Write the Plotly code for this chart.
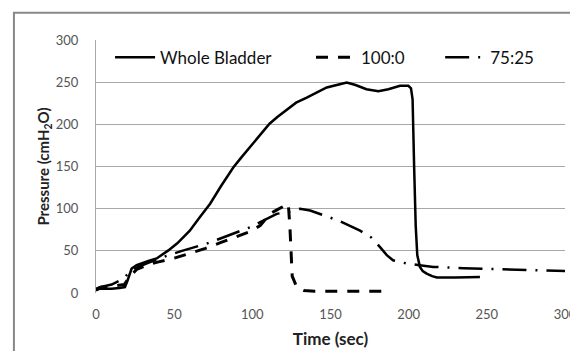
import plotly.graph_objects as go

# Data
wb_t = [0, 2, 5, 10, 15, 18.5, 20, 22.8, 26, 30, 34, 38.8, 42, 46.3, 52, 56, 60, 66, 73, 80, 87.8, 93, 98.5, 105, 111, 116, 122,
        128, 134.8, 141, 147.6, 154, 160.4, 166, 173, 180.6, 187, 194.5, 199.8, 201.5, 202.5, 203.5, 204.5, 205.5, 207.2, 209, 211.5, 215, 218, 230, 245.6]
wb_p = [3, 5, 5, 5, 6, 7, 14, 29, 33, 36, 38.5, 41, 45, 50.6, 59, 66, 74, 89, 106, 127, 149, 161, 173, 188, 201, 209, 217,
        226, 232, 238, 244, 247, 250, 247, 242, 239.5, 242, 246, 246, 243, 230, 150, 80, 45, 31, 26, 23, 20, 18.5, 18.5, 19]

p100_t = [0, 3, 10, 18, 22, 26, 32.4, 40, 49.5, 60, 70, 80, 90, 98.5, 105, 111.3, 116, 120, 123, 124, 124.6, 125.5, 128.4, 133, 140, 160, 185]
p100_p = [4, 7, 8, 10, 20, 28, 33, 37, 41, 47, 53, 60, 67, 73, 80, 94, 99, 103, 106, 80, 50, 20, 7, 3, 2, 2, 2]

p75_t = [0, 2.6, 10, 17.5, 22, 27, 35, 45, 55, 62, 70.8, 80, 90, 98.5, 106, 115.6, 122, 127, 130.5, 137, 143, 155, 168.9, 176,
         181.7, 186, 190, 198.7, 207, 215.8, 235, 258.4, 280, 301]
p75_p = [5, 7, 10, 17, 26, 31, 37, 44, 50, 54, 58.6, 65, 72, 78, 85, 94, 96, 98, 100, 98, 94, 86, 74, 66,
         54.5, 45, 38.8, 35, 33, 31, 29.5, 28, 27, 26]

series_names = ["Whole Bladder", "100:0", "75:25"]

x_ticks = [0, 50, 100, 150, 200, 250, 300]
y_ticks = [0, 50, 100, 150, 200, 250, 300]

FONT = "Lato"
PAD1 = "\u00a0" * 8
PAD2 = "\u00a0" * 7

fig = go.Figure()
fig.add_trace(go.Scatter(x=wb_t, y=wb_p, mode="lines", name=series_names[0] + PAD1,
                         line=dict(color="black", width=2.5)))
fig.add_trace(go.Scatter(x=p100_t, y=p100_p, mode="lines", name=series_names[1] + PAD2,
                         line=dict(color="black", width=3, dash="12px,10px")))
fig.add_trace(go.Scatter(x=p75_t, y=p75_p, mode="lines", name=series_names[2],
                         line=dict(color="black", width=2.5, dash="24px,9px,2px,9px")))

fig.update_layout(
    width=570, height=343,
    margin=dict(l=88, r=13, t=32, b=58, autoexpand=False),
    paper_bgcolor="white", plot_bgcolor="white",
    font=dict(family=FONT, color="#333333"),
    showlegend=True,
    legend=dict(orientation="h", x=0.03, xanchor="left", y=0.93, yanchor="middle",
                font=dict(family=FONT, size=17, color="#111111"), itemwidth=40,
                bgcolor="rgba(0,0,0,0)"),
    xaxis=dict(range=[0, 300], tickvals=x_ticks, showgrid=False, zeroline=False, automargin=False,
               showline=False, ticks="", tickfont=dict(size=13, color="#555555"), ticklabelstandoff=12,
               title=dict(text="<b>Time (sec)</b>", font=dict(size=17, color="#222222"), standoff=12)),
    yaxis=dict(range=[0, 300.4], tickvals=y_ticks, showgrid=True, gridcolor="#a8a8a8", gridwidth=1,
               zeroline=False, showline=True, linecolor="#a8a8a8", linewidth=1, ticks="", automargin=False,
               tickfont=dict(size=13, color="#555555"), ticklabelstandoff=14,
               title=dict(text="<b>Pressure (cmH<sub>2</sub>O)</b>", font=dict(size=15, color="#222222"), standoff=2)),
)

# outer chart frame (top and left edges visible)
fig.add_shape(type="rect", xref="paper", yref="paper", x0=-0.175, x1=1.2, y0=-0.5, y1=1.108,
              line=dict(color="#888888", width=2), fillcolor="rgba(0,0,0,0)", layer="above")

fig.write_html("out.html")
